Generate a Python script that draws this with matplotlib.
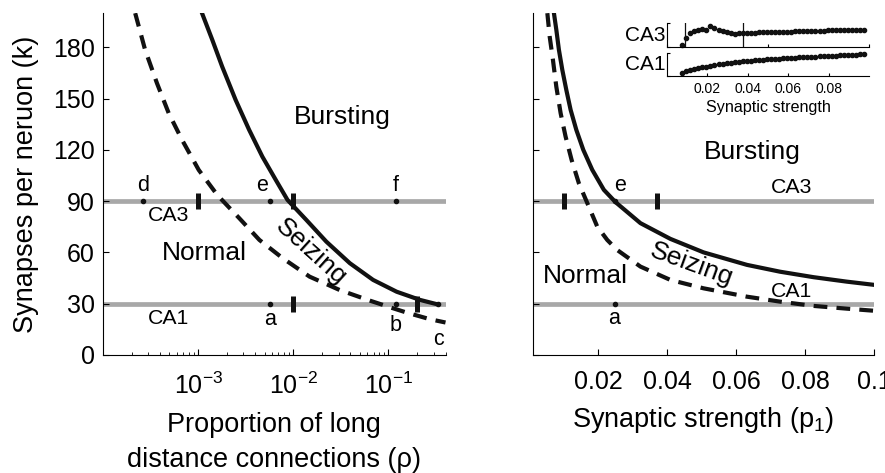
import matplotlib
matplotlib.use("Agg")
import matplotlib.pyplot as plt

plt.rcParams["font.family"] = ["Liberation Sans", "DejaVu Sans"]
plt.rcParams["mathtext.fontset"] = "custom"
plt.rcParams["mathtext.rm"] = "Liberation Sans"
plt.rcParams["mathtext.it"] = "Liberation Sans"

# left panel: thresholds vs proportion of long distance connections
rho_burst = [0.0011, 0.00141, 0.00179, 0.00248, 0.00344, 0.00474, 0.00656, 0.00871,
             0.01374, 0.0223, 0.0394, 0.0693, 0.1225, 0.216, 0.33]
k_burst = [199.9, 184.3, 168.7, 149.2, 131.7, 116.0, 102.4, 90.7,
           79.0, 66.3, 53.7, 43.9, 37.0, 32.2, 29.6]
rho_seize = [2.18e-4, 2.77e-4, 3.69e-4, 4.91e-4, 6.78e-4, 1.016e-3, 1.59e-3, 2.71e-3,
             4.41e-3, 7.76e-3, 0.0149, 0.0308, 0.064, 0.1127, 0.156, 0.275, 0.40]
k_seize = [199.9, 178.5, 159.0, 141.4, 125.8, 108.2, 93.6, 80.0,
           67.3, 56.6, 45.8, 38.0, 31.8, 27.3, 24.8, 20.9, 19.0]

# right panel: thresholds vs synaptic strength
p_burst = [0.00716, 0.00785, 0.0086, 0.00959, 0.01075, 0.01199, 0.01364, 0.01566,
           0.01826, 0.02162, 0.025, 0.03223, 0.04091, 0.05054, 0.0631, 0.0727,
           0.0824, 0.092, 0.1]
kp_burst = [199.9, 190.2, 178.5, 166.7, 155.0, 143.4, 131.7, 120.0,
            108.3, 96.6, 89.4, 77.1, 67.9, 60.0, 52.7, 48.7,
            45.5, 42.9, 41.0]
p_seize = [0.00525, 0.00592, 0.00687, 0.00785, 0.0091, 0.01054, 0.01228, 0.01439,
           0.01728, 0.01971, 0.0226, 0.0255, 0.03223, 0.0409, 0.0505, 0.0631,
           0.0727, 0.0824, 0.092, 0.0997]
kp_seize = [199.9, 186.3, 172.6, 156.9, 141.4, 127.7, 114.1, 100.4,
            86.7, 75.1, 67.3, 61.4, 51.7, 43.9, 39.0, 34.1,
            31.2, 28.7, 27.1, 25.9]

k_ca3 = 90
k_ca1 = 30

# marked points and bars
rho_dots_ca3 = [2.65e-4, 5.7e-3, 0.12]
rho_dots_ca1 = [5.7e-3, 0.12, 0.335]
rho_bars_ca3 = [1e-3, 1e-2]
rho_bars_ca1 = [1e-2, 0.2]
p_dots = [0.025]
p_bars_ca3 = [0.01, 0.037]

# inset: sampled synaptic strengths and responses (arbitrary units)
x_inset = [0.0075, 0.0095, 0.0115, 0.0135, 0.0155, 0.0175, 0.0195, 0.0215, 0.0235, 0.0255,
           0.0275, 0.0295, 0.0315, 0.0335, 0.0355, 0.0375, 0.0395, 0.0415, 0.0435, 0.0455,
           0.0475, 0.0495, 0.0515, 0.0535, 0.0555, 0.0575, 0.0595, 0.0615, 0.0635, 0.0655,
           0.0675, 0.0695, 0.0715, 0.0735, 0.0755, 0.0775, 0.0795, 0.0815, 0.0835, 0.0855,
           0.0875, 0.0895, 0.0915, 0.0935, 0.0955, 0.0975]
ca3_inset = [2.8, 9.8, 14.3, 16.3, 17.8, 18.4, 17.6, 22.0, 19.5, 17.8,
             16.8, 16.0, 15.0, 13.8, 14.6, 14.2, 14.8, 15.0, 15.1, 15.2,
             15.3, 15.4, 15.5, 15.6, 15.7, 15.8, 16.0, 16.1, 16.2, 16.4,
             16.5, 16.6, 16.8, 16.9, 17.0, 17.1, 17.2, 17.3, 17.4, 17.5,
             17.6, 17.7, 17.8, 17.9, 18.0, 18.1]
ca1_inset = [3.3, 5.0, 6.0, 7.0, 8.0, 9.0, 9.6, 10.6, 11.3, 12.0,
             12.6, 13.0, 13.6, 14.0, 14.6, 15.0, 15.3, 15.6, 16.0, 16.3,
             16.6, 17.0, 17.3, 17.6, 17.9, 18.1, 18.4, 18.6, 18.9, 19.1,
             19.3, 19.5, 19.7, 19.9, 20.1, 20.3, 20.5, 20.7, 20.9, 21.1,
             21.3, 21.5, 21.7, 21.9, 22.1, 22.3]
inset_vlines = [0.009, 0.0374]

GRAY = "#a8a8a8"
DASH = (0, (3.3, 2.2))

fig = plt.figure(figsize=(8.85, 4.73), dpi=100)
ax1 = fig.add_axes([0.1164, 0.2495, 0.387, 0.723])
ax2 = fig.add_axes([0.6019, 0.2495, 0.386, 0.723])


def style_main(ax):
    for s in ("top", "right"):
        ax.spines[s].set_visible(False)
    ax.tick_params(which="both", direction="in", labelsize=18)
    ax.tick_params(which="major", length=4)
    ax.tick_params(which="minor", length=2)
    ax.set_ylim(0, 200)
    ax.set_yticks([0, 30, 60, 90, 120, 150, 180])


# ---- left panel ----
style_main(ax1)
ax1.set_xscale("log")
ax1.set_xlim(1e-4, 0.4)
ax1.axhline(k_ca3, color=GRAY, lw=3.4, zorder=1)
ax1.axhline(k_ca1, color=GRAY, lw=3.4, zorder=1)
ax1.plot(rho_burst, k_burst, color="#111111", lw=3, zorder=3)
ax1.plot(rho_seize, k_seize, color="#111111", lw=3, linestyle=DASH, zorder=3)
ax1.plot(rho_dots_ca3, [k_ca3] * 3, "o", color="#111111", ms=3, zorder=4)
ax1.plot(rho_dots_ca1, [k_ca1] * 3, "o", color="#111111", ms=3, zorder=4)
ax1.plot(rho_bars_ca3, [k_ca3] * 2, "|", color="#111111", ms=12, mew=3.6, zorder=4)
ax1.plot(rho_bars_ca1, [k_ca1] * 2, "|", color="#111111", ms=12, mew=3.6, zorder=4)
ax1.set_xticks([1e-3, 1e-2, 1e-1])
ax1.set_xticklabels([r"$\mathregular{10^{-3}}$", r"$\mathregular{10^{-2}}$",
                     r"$\mathregular{10^{-1}}$"])
ax1.tick_params(axis="x", which="major", pad=13)
ax1.tick_params(axis="y", pad=6)
ax1.set_ylabel("Synapses per neruon (k)", fontsize=19.5, labelpad=10)
ax1.set_xlabel("Proportion of long\ndistance connections (\u03c1)", fontsize=19.5,
               labelpad=9, linespacing=1.45)

for txt, x, y in [("d", 2.65e-4, 99), ("e", 4.7e-3, 99), ("f", 0.12, 99),
                  ("a", 5.7e-3, 20.5), ("b", 0.12, 17.5), ("c", 0.334, 8.8)]:
    ax1.text(x, y, txt, fontsize=15.5, ha="center", va="center")
ax1.text(4.94e-4, 81.3, "CA3", fontsize=15.3, ha="center", va="center")
ax1.text(4.94e-4, 21.6, "CA1", fontsize=15.3, ha="center", va="center")
ax1.text(1.16e-3, 59.7, "Normal", fontsize=19, ha="center", va="center")
ax1.text(0.0332, 139.3, "Bursting", fontsize=19, ha="center", va="center")
ax1.text(0.0155, 60.4, "Seizing", fontsize=19, ha="center", va="center", rotation=-42)

# ---- right panel ----
style_main(ax2)
ax2.set_xlim(0.001, 0.1)
ax2.axhline(k_ca3, color=GRAY, lw=3.4, zorder=1)
ax2.axhline(k_ca1, color=GRAY, lw=3.4, zorder=1)
ax2.plot(p_burst, kp_burst, color="#111111", lw=3, zorder=3)
ax2.plot(p_seize, kp_seize, color="#111111", lw=3, linestyle=DASH, zorder=3)
ax2.plot(p_dots, [k_ca3], "o", color="#111111", ms=3, zorder=4)
ax2.plot(p_dots, [k_ca1], "o", color="#111111", ms=3, zorder=4)
ax2.plot(p_bars_ca3, [k_ca3] * 2, "|", color="#111111", ms=12, mew=3.6, zorder=4)
ax2.set_xticks([0.02, 0.04, 0.06, 0.08, 0.1])
ax2.set_xticklabels(["0.02", "0.04", "0.06", "0.08", "0.1"])
ax2.tick_params(axis="x", pad=11)
ax2.tick_params(axis="y", labelleft=False)
ax2.set_xlabel(r"Synaptic strength (p$\mathregular{_1}$)", fontsize=19.5, labelpad=8)

ax2.text(0.02645, 98.9, "e", fontsize=15.5, ha="center", va="center")
ax2.text(0.02472, 21.6, "a", fontsize=15.5, ha="center", va="center")
ax2.text(0.0761, 97.7, "CA3", fontsize=15.3, ha="center", va="center")
ax2.text(0.0761, 36.9, "CA1", fontsize=15.3, ha="center", va="center")
ax2.text(0.01633, 46.2, "Normal", fontsize=19, ha="center", va="center")
ax2.text(0.06454, 118.8, "Bursting", fontsize=19, ha="center", va="center")
ax2.text(0.04719, 52.7, "Seizing", fontsize=19, ha="center", va="center", rotation=-20)

# ---- inset ----
ins3 = fig.add_axes([0.7537, 0.9, 0.2282, 0.0507])
ins1 = fig.add_axes([0.7537, 0.8383, 0.2282, 0.0486])
for ax, vals, top, name in [(ins3, ca3_inset, 24.5, "CA3"), (ins1, ca1_inset, 23, "CA1")]:
    for s in ("top", "right"):
        ax.spines[s].set_visible(False)
    for s in ("left", "bottom"):
        ax.spines[s].set_linewidth(0.8)
    ax.plot(x_inset, vals, "o", color="#111111", ms=3, clip_on=False)
    ax.set_xlim(0, 0.1)
    ax.set_ylim(0, top)
    ax.set_yticks([0, top])
    ax.tick_params(direction="in", length=2, width=0.8, labelleft=False, labelsize=10, pad=4)
    ax.set_ylabel(name, fontsize=15, rotation=0, ha="right", va="center", labelpad=1)
    ax.patch.set_alpha(0)
for xv in inset_vlines:
    ins3.axvline(xv, color="#111111", lw=0.9)
ins3.set_xticks([0, 0.05, 0.1])
ins3.tick_params(labelbottom=False)
ins1.set_xticks([0.02, 0.04, 0.06, 0.08])
ins1.set_xticklabels(["0.02", "0.04", "0.06", "0.08"])
ins1.set_xlabel("Synaptic strength", fontsize=11.6, labelpad=3)

fig.savefig("out.png", dpi=100)
